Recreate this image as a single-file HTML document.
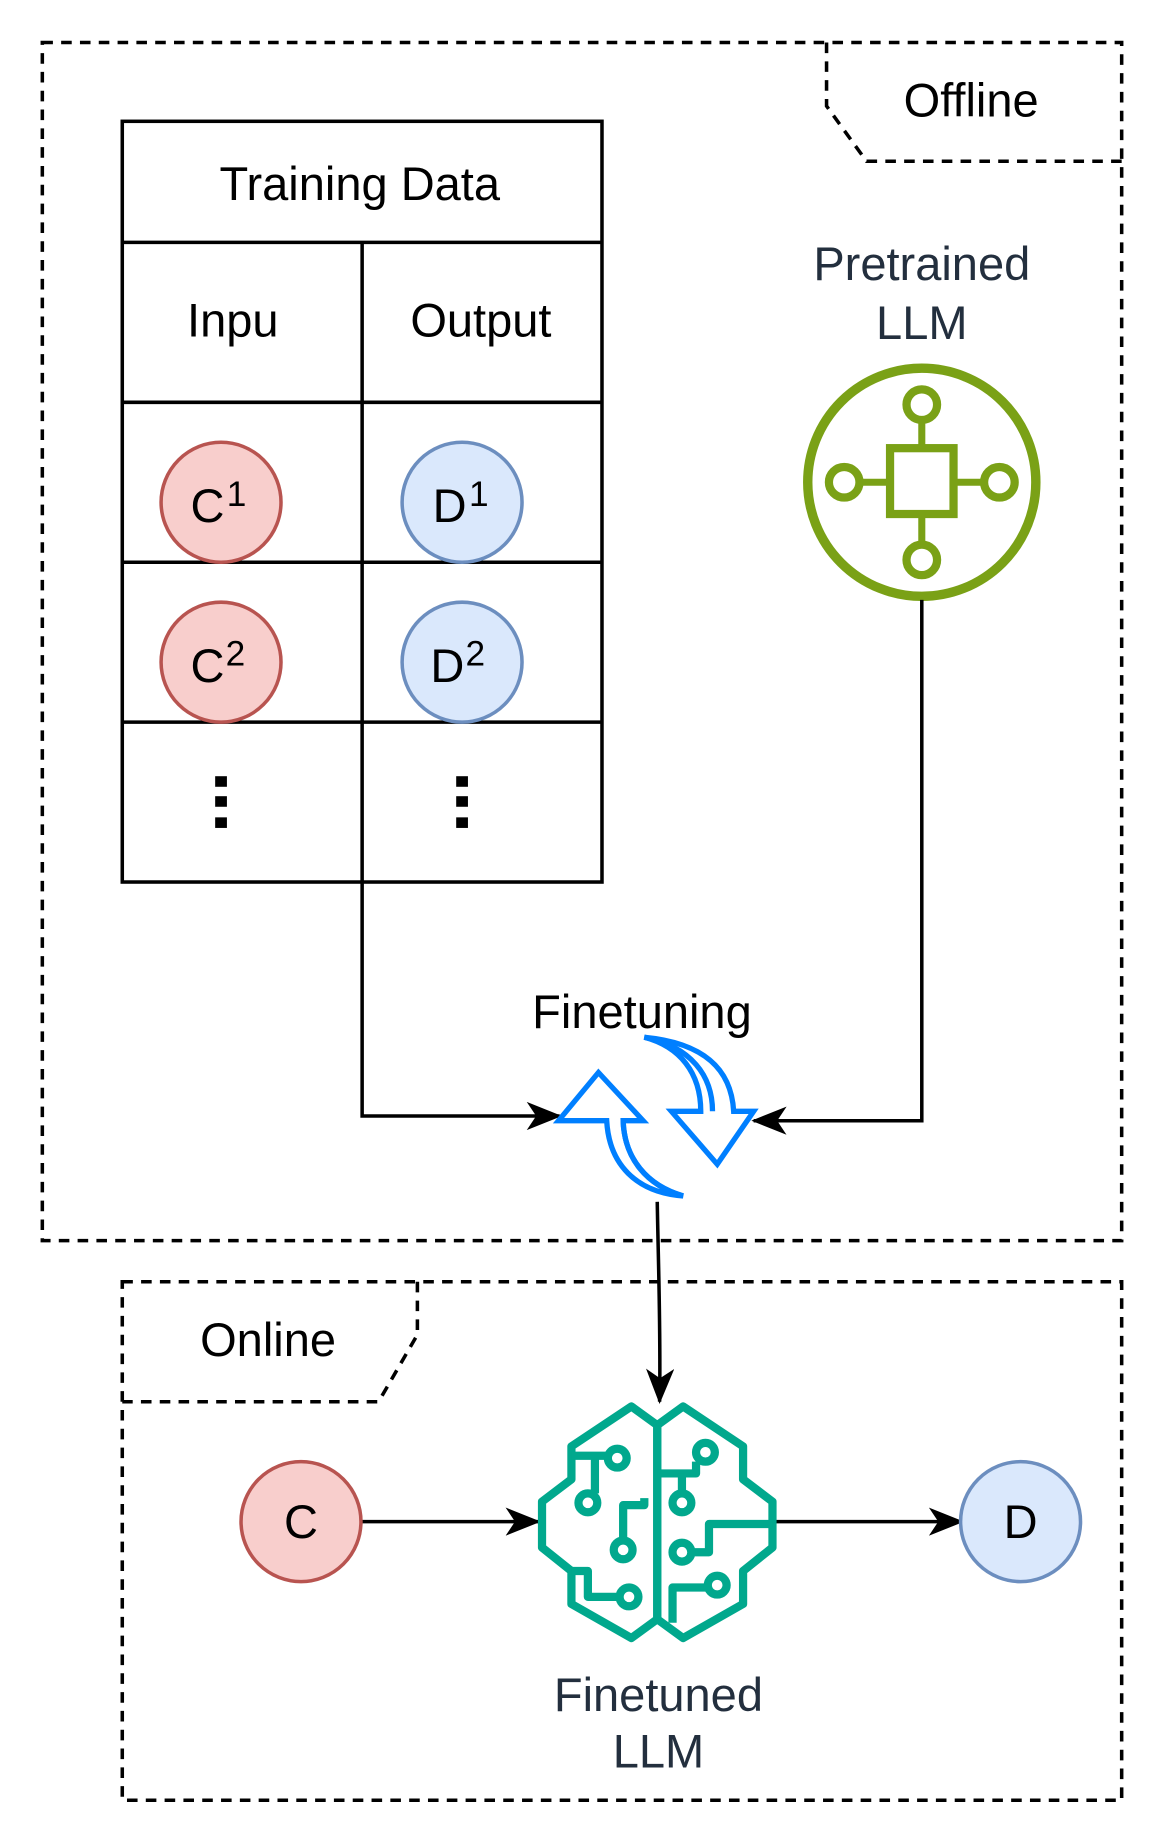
<!DOCTYPE html>
<html><head><meta charset="utf-8"><style>html,body{margin:0;padding:0;background:#fff}svg{display:block}</style></head>
<body>
<svg width="1164" height="1844" viewBox="0 0 990 1568" xmlns="http://www.w3.org/2000/svg" font-family="Liberation Sans, Arial, sans-serif">
<defs>
<marker id="ah" viewBox="0 0 30 24" refX="28" refY="12" markerWidth="30" markerHeight="24" markerUnits="userSpaceOnUse" orient="auto">
<path d="M0,0 L30,12 L0,24 L8,12 Z" fill="#000"/>
</marker>
</defs>
<rect width="990" height="1568" fill="#fff"/>
<g fill="none" stroke="#000" stroke-width="3" stroke-dasharray="9,7">
<rect x="36" y="36" width="918" height="1019"/>
<path d="M703,36 L703,90 L737,137 L954,137"/>
<rect x="104" y="1090" width="850" height="441"/>
<path d="M355,1090 L355,1135 L322,1192 L104,1192"/>
</g>
<text x="826" y="99" font-size="40" text-anchor="middle" fill="#000">Offline</text>
<text x="228" y="1153" font-size="40" text-anchor="middle" fill="#000">Online</text>
<g fill="none" stroke="#000" stroke-width="3">
<rect x="104" y="103" width="408" height="647"/>
<line x1="104" y1="206" x2="512" y2="206"/>
<line x1="104" y1="342" x2="512" y2="342"/>
<line x1="104" y1="478" x2="512" y2="478"/>
<line x1="104" y1="614" x2="512" y2="614"/>
<line x1="308" y1="206" x2="308" y2="750"/>
</g>
<text x="306" y="170" font-size="40" text-anchor="middle">Training Data</text>
<text x="198" y="286" font-size="40" text-anchor="middle">Inpu</text>
<text x="409" y="286" font-size="40" text-anchor="middle">Output</text>
<g stroke-width="3">
<circle cx="188" cy="427" r="51" fill="#f8cecc" stroke="#b85450"/>
<circle cx="393" cy="427" r="51" fill="#dae8fc" stroke="#6c8ebf"/>
<circle cx="188" cy="563" r="51" fill="#f8cecc" stroke="#b85450"/>
<circle cx="393" cy="563" r="51" fill="#dae8fc" stroke="#6c8ebf"/>
</g>
<text x="162" y="444" font-size="40">C<tspan font-size="30" dx="2" dy="-14">1</tspan></text>
<text x="368" y="444" font-size="40">D<tspan font-size="30" dx="2" dy="-14">1</tspan></text>
<text x="162" y="580" font-size="40">C<tspan font-size="30" dx="1" dy="-14">2</tspan></text>
<text x="366" y="580" font-size="40">D<tspan font-size="30" dx="1" dy="-14">2</tspan></text>
<g fill="#000">
<rect x="183" y="660" width="10" height="9"/><rect x="183" y="677" width="10" height="9"/><rect x="183" y="695" width="10" height="9"/>
<rect x="388" y="660" width="10" height="9"/><rect x="388" y="677" width="10" height="9"/><rect x="388" y="695" width="10" height="9"/>
</g>
<text x="784" y="238" font-size="40" text-anchor="middle" fill="#232f3e">Pretrained</text>
<text x="784" y="288" font-size="40" text-anchor="middle" fill="#232f3e">LLM</text>
<g fill="none" stroke="#7aa116" stroke-width="8">
<circle cx="784" cy="410" r="97"/>
<rect x="757" y="381" width="54" height="56" stroke-width="7"/>
<circle cx="784" cy="344" r="13" stroke-width="7"/>
<circle cx="784" cy="476" r="13" stroke-width="7"/>
<circle cx="718" cy="410" r="13" stroke-width="7"/>
<circle cx="850" cy="410" r="13" stroke-width="7"/>
<path d="M784,357 V381 M784,437 V463 M731,410 H757 M811,410 H837" stroke-width="6"/>
</g>
<g fill="none" stroke="#000" stroke-width="3">
<path d="M308,750 L308,949 L476,949" marker-end="url(#ah)"/>
<path d="M784,510 L784,953 L641,953" marker-end="url(#ah)"/>
<path d="M559,1022 C560,1080 562,1130 561,1192" marker-end="url(#ah)"/>
<path d="M307,1294 L458,1294" marker-end="url(#ah)"/>
<path d="M660,1294 L818,1294" marker-end="url(#ah)"/>
</g>
<text x="546" y="874" font-size="40" text-anchor="middle">Finetuning</text>
<g fill="#fff" stroke="#007fff" stroke-width="4.5" stroke-linejoin="miter">
<path d="M509,912 L547,953 L530,953 C531,985 550,1008 581,1017 C541,1014 518,990 516,953 L475,953 Z"/>
<path d="M530,953 C531,985 550,1008 581,1017" fill="none"/>
<path d="M610,990 L641,945 L624,945 C622,910 600,887 548,882 C578,890 596,912 596,945 L571,945 Z"/>
<path d="M548,882 C588,890 606,915 606,945" fill="none"/>
</g>
<circle cx="256" cy="1294" r="51" fill="#f8cecc" stroke="#b85450" stroke-width="3"/>
<circle cx="868" cy="1294" r="51" fill="#dae8fc" stroke="#6c8ebf" stroke-width="3"/>
<text x="256" y="1308" font-size="40" text-anchor="middle">C</text>
<text x="868" y="1308" font-size="40" text-anchor="middle">D</text>
<g fill="none" stroke="#01a88d" stroke-width="7" stroke-linejoin="round">
<path d="M559,1212 L537,1196 L486,1230 L486,1258 L461,1277 L461,1316 L486,1336 L486,1364 L537,1393 L559,1377 Z"/>
<path d="M559,1212 L581,1196 L632,1230 L632,1258 L657,1277 L657,1316 L632,1336 L632,1364 L581,1393 L559,1377"/>
<path d="M559,1212 L559,1377"/>
<path d="M486,1238 H506 V1270 M506,1238 H517"/>
<circle cx="525" cy="1240" r="8"/>
<circle cx="500" cy="1278" r="8"/>
<path d="M548,1274 V1280 H530 V1310"/>
<circle cx="530" cy="1318" r="8"/>
<path d="M486,1336 H500 V1358 H527"/>
<circle cx="535" cy="1358" r="8"/>
<path d="M559,1253 H592 V1243"/>
<circle cx="600" cy="1235" r="8"/>
<path d="M580,1253 V1270"/>
<circle cx="580" cy="1278" r="8"/>
<path d="M657,1296 H603 V1320 H588"/>
<circle cx="580" cy="1320" r="8"/>
<path d="M572,1380 V1350 H602"/>
<circle cx="610" cy="1348" r="8"/>
</g>
<text x="560" y="1455" font-size="40" text-anchor="middle" fill="#232f3e">Finetuned</text>
<text x="560" y="1503" font-size="40" text-anchor="middle" fill="#232f3e">LLM</text>
</svg>
</body></html>
